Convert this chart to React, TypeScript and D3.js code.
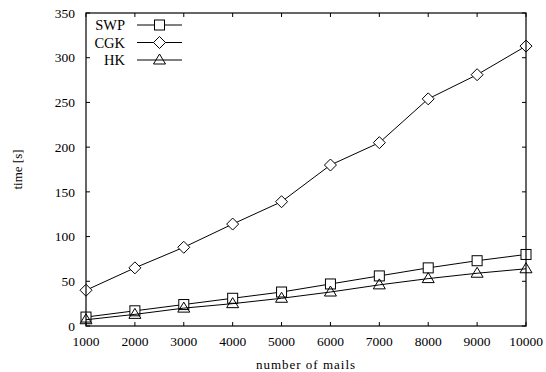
import React from "react";
import { scaleLinear, line } from "d3";

const mails = [1000, 2000, 3000, 4000, 5000, 6000, 7000, 8000, 9000, 10000];
const swp = [10, 17, 24, 31, 38, 47, 56, 65, 73, 80];
const cgk = [40, 65, 88, 114, 139, 180, 205, 254, 281, 313];
const hk = [7, 13, 20, 25, 31, 38, 46, 53, 59, 64];
const yTicks = [0, 50, 100, 150, 200, 250, 300, 350];
const seriesNames = ["SWP", "CGK", "HK"];

const W = 546;
const H = 372;
const margin = { top: 13, right: 20, bottom: 46, left: 86 };
const font = "Liberation Serif";

const Marker = ({ kind, x, y }: { kind: string; x: number; y: number }) => {
  const s = 5;
  if (kind === "SWP")
    return <rect x={x - s} y={y - s} width={2 * s} height={2 * s} fill="white" stroke="black" />;
  if (kind === "CGK")
    return (
      <path
        d={`M${x},${y - s - 1}L${x + s + 1},${y}L${x},${y + s + 1}L${x - s - 1},${y}Z`}
        fill="white"
        stroke="black"
      />
    );
  return (
    <path
      d={`M${x},${y - s - 1}L${x + s + 1},${y + s - 1}L${x - s - 1},${y + s - 1}Z`}
      fill="none"
      stroke="black"
    />
  );
};

export default function App() {
  const x = scaleLinear()
    .domain([1000, 10000])
    .range([margin.left, W - margin.right]);
  const y = scaleLinear()
    .domain([0, 350])
    .range([H - margin.bottom, margin.top]);

  const series = [
    { name: "SWP", values: swp },
    { name: "CGK", values: cgk },
    { name: "HK", values: hk },
  ];
  const gen = line<number>()
    .x((_, i) => x(mails[i]))
    .y((d) => y(d));

  const x0 = x.range()[0];
  const x1 = x.range()[1];
  const y0 = y.range()[0];
  const y1 = y.range()[1];
  const tl = 4;

  return (
    <svg width={W} height={H} style={{ position: "absolute", left: 0, top: 0 }}>
      <rect width={W} height={H} fill="white" />
      {/* ticks */}
      {yTicks.map((t) => (
        <g key={"y" + t}>
          <line x1={x0} x2={x0 + tl} y1={y(t)} y2={y(t)} stroke="black" />
          <line x1={x1} x2={x1 - tl} y1={y(t)} y2={y(t)} stroke="black" />
          <text
            x={x0 - 11}
            y={y(t)}
            dy="0.35em"
            textAnchor="end"
            fontFamily={font}
            fontSize={13.5}
          >
            {t}
          </text>
        </g>
      ))}
      {mails.map((t) => (
        <g key={"x" + t}>
          <line x1={x(t)} x2={x(t)} y1={y0} y2={y0 - tl} stroke="black" />
          <line x1={x(t)} x2={x(t)} y1={y1} y2={y1 + tl} stroke="black" />
          <text
            x={x(t)}
            y={y0 + 20}
            textAnchor="middle"
            fontFamily={font}
            fontSize={13.5}
          >
            {t}
          </text>
        </g>
      ))}
      {/* series */}
      {series.map((s) => (
        <g key={s.name}>
          <path d={gen(s.values) ?? ""} fill="none" stroke="black" strokeWidth={1} />
          {s.values.map((v, i) => (
            <Marker key={i} kind={s.name} x={x(mails[i])} y={y(v)} />
          ))}
        </g>
      ))}
      {/* frame */}
      <rect
        x={x0}
        y={y1}
        width={x1 - x0}
        height={y0 - y1}
        fill="none"
        stroke="black"
        strokeWidth={1.2}
      />
      {/* legend */}
      {seriesNames.map((n, i) => {
        const ly = 25 + i * 17.5;
        return (
          <g key={"l" + n}>
            <text
              x={125}
              y={ly}
              dy="0.35em"
              textAnchor="end"
              fontFamily={font}
              fontSize={14.5}
            >
              {n}
            </text>
            <line x1={137} x2={182} y1={ly} y2={ly} stroke="black" />
            <Marker kind={n} x={159.5} y={ly} />
          </g>
        );
      })}
      {/* axis labels */}
      <text
        transform={`translate(22,${(y0 + y1) / 2}) rotate(-90)`}
        textAnchor="middle"
        fontFamily={font}
        fontSize={13}
      >
        time [s]
      </text>
      <text
        x={(x0 + x1) / 2}
        y={369}
        textAnchor="middle"
        fontFamily={font}
        fontSize={13}
        letterSpacing={1}
      >
        number of mails
      </text>
    </svg>
  );
}
